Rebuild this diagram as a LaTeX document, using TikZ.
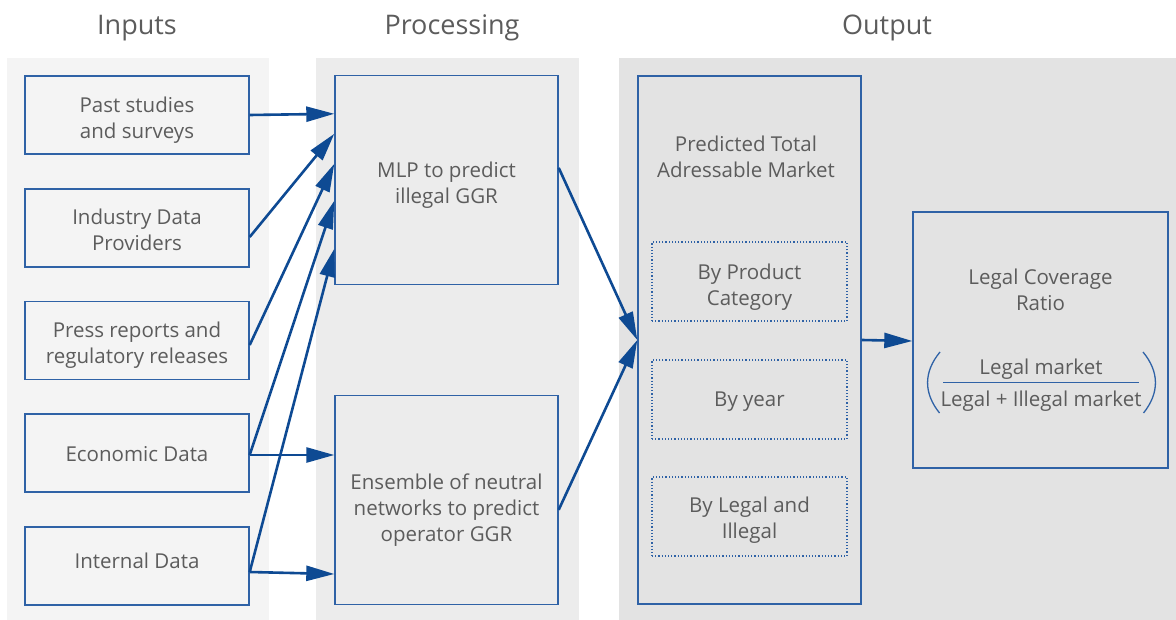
\documentclass[tikz,border=0pt]{standalone}
\usepackage{fontspec}
\setmainfont{Open Sans}
\usetikzlibrary{arrows.meta,calc}
\definecolor{panelA}{HTML}{F4F4F4}
\definecolor{panelB}{HTML}{ECECEC}
\definecolor{panelC}{HTML}{E3E3E3}
\definecolor{edge}{HTML}{2F62A6}
\definecolor{flow}{HTML}{0E4A93}
\definecolor{ink}{HTML}{5C5C5C}
\begin{document}
\begin{tikzpicture}[x=1pt,y=-1pt,
  title/.style={text=ink, font=\fontsize{27}{30}\selectfont, inner sep=0pt, anchor=base},
  box/.style={draw=edge, line width=1.4pt, inner sep=0pt},
  inbox/.style={box, fill=panelA, minimum width=224pt, minimum height=78pt},
  procbox/.style={box, fill=panelB, minimum width=223pt, minimum height=209pt},
  subbox/.style={box, line width=1.2pt, dotted, minimum width=195pt, minimum height=79pt},
  % text nodes are placed by the baseline of their last line
  txt/.style={text=ink, font=\fontsize{20.5}{26}\selectfont, align=center, inner sep=0pt, anchor=base},
  flowarrow/.style={draw=flow, line width=2.6pt, -{Triangle[length=28pt,width=15pt]}}]
\useasboundingbox (0,0) rectangle (1176,620);

% column backgrounds
\fill[panelA] (7,58) rectangle (269,620);
\fill[panelB] (316,58) rectangle (579,620);
\fill[panelC] (619,58) rectangle (1176,620);

% column titles
\node[title] (tIn)   at (137,35) {Inputs};
\node[title] (tProc) at (452,35) {Processing};
\node[title] (tOut)  at (887,35) {Output};

% inputs
\node[inbox] (past)  at (137,115) {};
\node[inbox] (ind)   at (137,228) {};
\node[inbox] (press) at (137,340.5) {};
\node[inbox] (econ)  at (137,453) {};
\node[inbox] (intl)  at (137,566) {};
\node[txt] (pastT)  at (137,139) {Past studies\\and surveys};
\node[txt] (indT)   at (137,250.5) {Industry Data\\Providers};
\node[txt] (pressT) at (137,363.5) {Press reports and\\regulatory releases};
\node[txt] (econT)  at (137,461) {Economic Data};
\node[txt] (intlT)  at (137,568.5) {Internal Data};

% processing
\node[procbox] (mlp) at (446.5,180) {};
\node[txt] (mlpT) at (446.5,203.5) {MLP to predict\\illegal GGR};
\node[procbox] (ens) at (446.5,500) {};
\node[txt] (ensT) at (446.5,541.5) {Ensemble of neutral\\networks to predict\\operator GGR};

% output
\node[box, fill=panelC, minimum width=223pt, minimum height=528pt] (tam) at (749.5,340) {};
\node[txt] (tamT) at (746,177.5) {Predicted Total\\Adressable Market};
\node[subbox] (bycat)   at (749.5,281.5) {};
\node[subbox] (byyear)  at (749.5,399.5) {};
\node[subbox] (bylegal) at (749.5,516.5) {};
\node[txt] (bycatT)   at (749.5,305.5) {By Product\\Category};
\node[txt] (byyearT)  at (749.5,406.5) {By year};
\node[txt] (bylegalT) at (749.5,538) {By Legal and\\Illegal};

\node[box, fill=panelC, minimum width=255pt, minimum height=256pt] (lcr) at (1040.5,340) {};
\node[txt] (lcrT) at (1040.5,311) {Legal Coverage\\Ratio};
\node[txt] (num) at (1041,374) {Legal market};
\node[txt] (den) at (1041,406.5) {Legal + Illegal market};
\draw[edge, line width=1.3pt] (943,382.3) -- (1139,382.3);
\draw[edge, line width=1.3pt] (940,352) .. controls (923.5,372) and (923.5,393) .. (939.5,413);
\draw[edge, line width=1.3pt] (1143,352) .. controls (1159.5,372) and (1159.5,393) .. (1143.5,413);

% connectors into the processing boxes
\coordinate (m1) at ($(mlp.north west)+(0,39)$);
\coordinate (m2) at ($(mlp.north west)+(0,59)$);
\coordinate (m3) at ($(mlp.north west)+(0,89)$);
\coordinate (m4) at ($(mlp.north west)+(0,126)$);
\coordinate (m5) at ($(mlp.north west)+(0,174)$);
\draw[flowarrow] (past.east) -- (m1);
\draw[flowarrow] ($(ind.east)+(0,9)$) -- (m2);
\draw[flowarrow] ($(press.east)+(0,4.5)$) -- (m3);
\draw[flowarrow] ($(econ.east)+(0,2)$) -- (m4);
\draw[flowarrow] ($(intl.east)+(0,6)$) -- (m5);
\draw[flowarrow] ($(econ.east)+(0,2)$) -- (ens.west |- {$(econ.east)+(0,2)$});
\draw[flowarrow] ($(intl.east)+(0,6)$) -- ($(ens.west |- intl.east)+(0,8)$);

% connectors into the output
\coordinate (tamIn) at (tam.west);
\draw[flowarrow] ($(mlp.north east)+(0,93)$) -- (tamIn);
\draw[flowarrow] ($(ens.north east)+(0,115)$) -- (tamIn);
\draw[flowarrow] (tam.east) -- ($(lcr.west)+(0,1)$);
\end{tikzpicture}
\end{document}
